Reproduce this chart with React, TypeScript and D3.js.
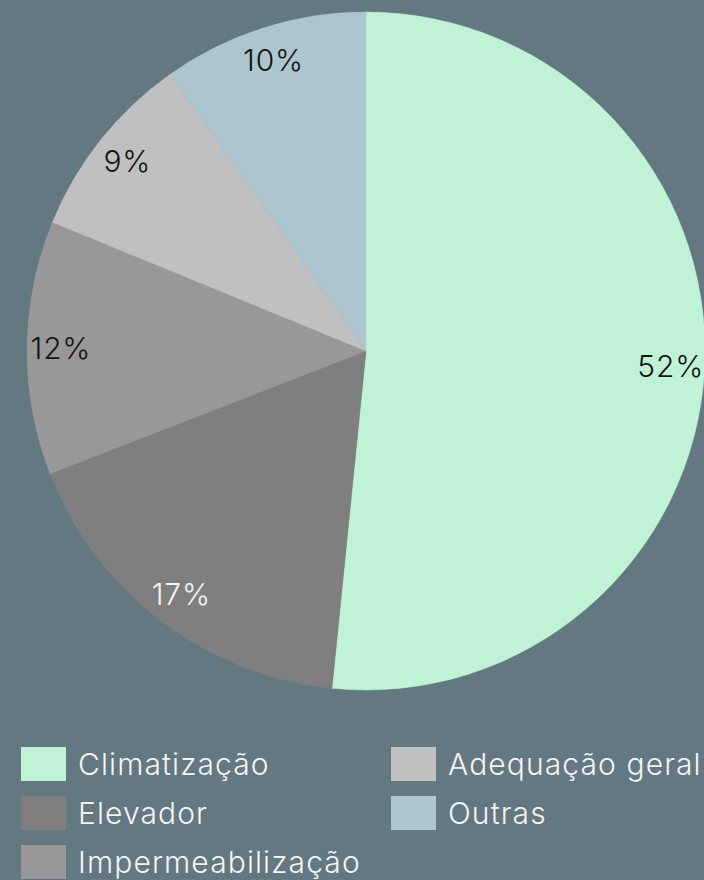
import React, { useRef, useEffect } from 'react';
import * as d3 from 'd3';

const categories = ['Climatização', 'Elevador', 'Impermeabilização', 'Adequação geral', 'Outras'];
const values = [51.6, 17.5, 12.1, 9.0, 9.8];
const labels = ['52%', '17%', '12%', '9%', '10%'];
const colors = ['#c0f3d6', '#7f7f7f', '#989898', '#c0c0c0', '#adc6cd'];
const labelColors = ['#141414', '#f4f4f4', '#141414', '#141414', '#141414'];

const width = 704;
const height = 880;
const cx = 366;
const cy = 351;
const radius = 339;

export default function App() {
  const svgRef = useRef<SVGSVGElement>(null);

  useEffect(() => {
    const svg = d3.select(svgRef.current);
    svg.selectAll('*').remove();

    svg.append('rect').attr('width', width).attr('height', height).attr('fill', '#637880');

    const data = categories.map((name, i) => ({
      name, value: values[i], label: labels[i], color: colors[i], labelColor: labelColors[i],
    }));
    const arcs = d3.pie<any>().sort(null).value(d => d.value)(data);
    const arc = d3.arc<any>().innerRadius(0).outerRadius(radius);
    const labelArc = d3.arc<any>().innerRadius(radius * 0.9).outerRadius(radius * 0.9);

    const g = svg.append('g').attr('transform', `translate(${cx},${cy})`);
    g.selectAll('path')
      .data(arcs)
      .join('path')
      .attr('d', arc)
      .attr('fill', d => d.data.color)
      .attr('stroke', d => d.data.color)
      .attr('stroke-width', 0.5);

    g.selectAll('text')
      .data(arcs)
      .join('text')
      .attr('transform', d => `translate(${labelArc.centroid(d)})`)
      .attr('text-anchor', 'middle')
      .attr('dominant-baseline', 'central')
      .attr('font-family', 'Inter, sans-serif')
      .attr('font-weight', 300)
      .attr('font-size', 30)
      .attr('letter-spacing', 0.8)
      .attr('fill', d => d.data.labelColor)
      .text(d => d.data.label);

    const legend = svg.append('g').attr('font-family', 'Inter, sans-serif');
    const item = legend.selectAll('g')
      .data(data)
      .join('g')
      .attr('transform', (d, i) => {
        const col = i < 3 ? 0 : 1;
        const row = i < 3 ? i : i - 3;
        return `translate(${col === 0 ? 21 : 391},${747 + row * 49})`;
      });
    item.append('rect')
      .attr('width', 45)
      .attr('height', 34)
      .attr('fill', d => d.color);
    item.append('text')
      .attr('x', 57)
      .attr('y', 17)
      .attr('dominant-baseline', 'central')
      .attr('font-size', 30)
      .attr('font-weight', 300)
      .attr('letter-spacing', 1.1)
      .attr('fill', '#f4f4f4')
      .text(d => d.name);
  }, []);

  return (
    <svg
      ref={svgRef}
      width={width}
      height={height}
      style={{ position: 'absolute', left: 0, top: 0, display: 'block' }}
    />
  );
}
